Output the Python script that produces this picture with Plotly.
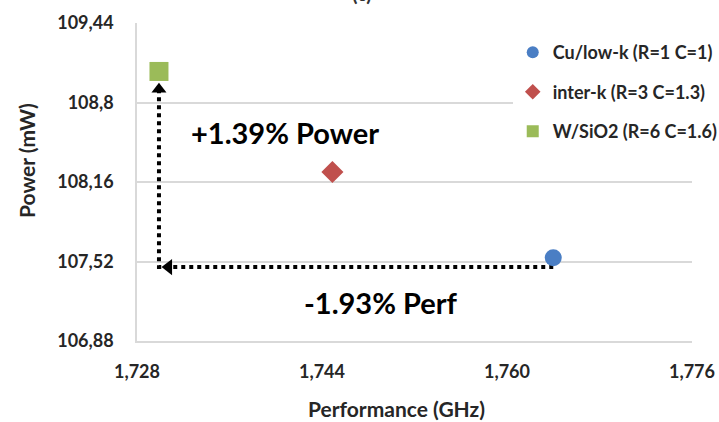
import plotly.graph_objects as go

# Interconnect options: frequency vs. power
series = ["Cu/low-k (R=1 C=1)", "inter-k (R=3 C=1.3)", "W/SiO2 (R=6 C=1.6)"]
perf_ghz = [1.7640, 1.7449, 1.7299]
power_mw = [107.55, 108.24, 109.05]
symbols = ["circle", "diamond", "square"]
colors = ["#4A7EC4", "#C0504D", "#9BBB59"]
sizes = [17, 17, 19]

y_ticks = [106.88, 107.52, 108.16, 108.8, 109.44]
y_ticktext = ["106,88", "107,52", "108,16", "108,8", "109,44"]
x_ticks = [1.728, 1.744, 1.760, 1.776]
x_ticktext = ["1,728", "1,744", "1,760", "1,776"]

FONT = "Lato, Carlito, Calibri, sans-serif"
TXT = "#262626"

fig = go.Figure()

# dotted arrows: Cu/low-k -> corner -> W/SiO2
cu_x, cu_y = perf_ghz[0], power_mw[0]
w_x, w_y = perf_ghz[2], power_mw[2]
corner_y = cu_y - 0.075
fig.add_trace(go.Scatter(
    x=[cu_x, w_x, w_x], y=[corner_y, corner_y, w_y - 0.13],
    mode="lines", line=dict(color="black", width=4, dash="dot"),
    showlegend=False, hoverinfo="skip"))
fig.add_trace(go.Scatter(
    x=[w_x + 0.00083], y=[corner_y], mode="markers",
    marker=dict(symbol="triangle-left", size=14, color="black"),
    showlegend=False, hoverinfo="skip"))
fig.add_trace(go.Scatter(
    x=[w_x], y=[w_y - 0.144], mode="markers",
    marker=dict(symbol="triangle-up", size=13, color="black"),
    showlegend=False, hoverinfo="skip"))

for name, xv, yv, sym, col, sz in zip(series, perf_ghz, power_mw, symbols, colors, sizes):
    fig.add_trace(go.Scatter(
        x=[xv], y=[yv], mode="markers", name=name, legendgroup=name,
        marker=dict(symbol=sym, size=sz, color=col)))

fig.add_annotation(x=1.7408, y=108.555, text="<b>+1.39% Power</b>", showarrow=False,
                   xanchor="center", yanchor="middle",
                   font=dict(family=FONT, size=29, color="black"))
fig.add_annotation(x=1.7491, y=107.186, text="<b>-1.93% Perf</b>", showarrow=False,
                   xanchor="center", yanchor="middle",
                   font=dict(family=FONT, size=29, color="black"))
fig.add_annotation(x=0.405, xref="paper", y=1, yref="paper", yanchor="bottom", yshift=16,
                   text="<b>(c)</b>", showarrow=False,
                   font=dict(family=FONT, size=20, color="#333"))

# axis titles
fig.add_annotation(x=-0.2, xref="paper", y=0.566, yref="paper", textangle=-90,
                   xanchor="center", yanchor="middle",
                   text="<b>Power (mW)</b>", showarrow=False,
                   font=dict(family=FONT, size=21, color=TXT))
fig.add_annotation(x=0.468, xref="paper", y=-0.211, yref="paper",
                   xanchor="center", yanchor="middle",
                   text="<b>Performance (GHz)</b>", showarrow=False,
                   font=dict(family=FONT, size=21, color=TXT))

fig.update_layout(
    width=719, height=422,
    margin=dict(l=137, r=27, t=23, b=81, autoexpand=False),
    paper_bgcolor="white", plot_bgcolor="white",
    font=dict(family=FONT, color=TXT),
    legend=dict(x=0.677, y=0.965, xanchor="left", yanchor="top",
                bgcolor="white", font=dict(family=FONT, size=18, color=TXT, weight="bold"),
                itemsizing="constant", tracegroupgap=13, traceorder="grouped"),
)
fig.update_xaxes(
    range=[1.728, 1.776], tickvals=x_ticks, ticktext=x_ticktext,
    showgrid=False, showline=True, linecolor="#D9D9D9", linewidth=1.5,
    zeroline=False, ticks="", ticklabelstandoff=14,
    tickfont=dict(family=FONT, size=18, color=TXT, weight="bold"))
fig.update_yaxes(
    range=[106.88, 109.44], tickvals=y_ticks, ticktext=y_ticktext,
    showgrid=True, gridcolor="#D9D9D9", gridwidth=1.5,
    showline=True, linecolor="#D9D9D9", linewidth=1.5,
    zeroline=False, ticks="", ticklabelstandoff=18,
    tickfont=dict(family=FONT, size=18, color=TXT, weight="bold"))

fig.write_html("out.html")
